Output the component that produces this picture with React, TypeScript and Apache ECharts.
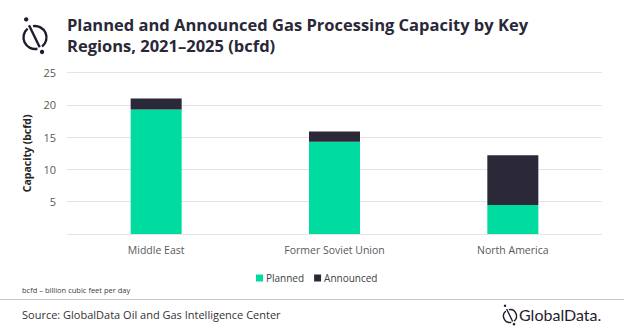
import React, { useEffect, useRef } from "react";
import * as echarts from "echarts";

const categories = ["Middle East", "Former Soviet Union", "North America"];
const planned = [19.3, 14.3, 4.5];
const announced = [1.7, 1.6, 7.7];
const yTicks = { min: 0, max: 25, interval: 5 };

const titleLines = ["Planned and Announced Gas Processing Capacity by Key", "Regions, 2021\u20132025 (bcfd)"];
const noteText = "bcfd \u2013 billion cubic feet per day";
const sourceText = "Source: GlobalData Oil and Gas Intelligence Center";

function logo(cx: number, cy: number, r: number, color: string, lw: number): any[] {
  const deg = Math.PI / 180;
  const ang = 64 * deg;
  const ext = r * 1.25;
  return [
    { type: "arc", shape: { cx, cy, r, startAngle: -100 * deg, endAngle: 52 * deg, clockwise: true }, style: { stroke: color, lineWidth: lw, fill: "none" } },
    { type: "arc", shape: { cx, cy, r, startAngle: 78 * deg, endAngle: 230 * deg, clockwise: true }, style: { stroke: color, lineWidth: lw, fill: "none" } },
    { type: "line", shape: { x1: cx - Math.cos(ang) * ext * 0.95, y1: cy - Math.sin(ang) * ext * 0.95, x2: cx + Math.cos(ang) * ext * 0.75, y2: cy + Math.sin(ang) * ext * 0.75 }, style: { stroke: color, lineWidth: lw } },
    { type: "circle", shape: { cx: cx - Math.cos(ang) * ext * 1.4, cy: cy - Math.sin(ang) * ext * 1.4, r: lw * 0.9 }, style: { fill: color } },
    { type: "circle", shape: { cx: cx + Math.cos(ang) * ext * 1.12, cy: cy + Math.sin(ang) * ext * 1.12, r: lw * 0.9 }, style: { fill: color } },
  ];
}

export default function App() {
  const ref = useRef<HTMLDivElement>(null);
  useEffect(() => {
    document.body.style.margin = "0";
    const chart = echarts.init(ref.current!, null, { renderer: "svg" });
    const titleStyle = { fontFamily: "Open Sans", fontWeight: "bold", fontSize: 16.5, fill: "#2a2837" };
    chart.setOption({
      animation: false,
      backgroundColor: "#ffffff",
      grid: { left: 67, right: 22, top: 72.7, bottom: 101, containLabel: false },
      legend: {
        data: ["Planned", "Announced"],
        left: 251,
        top: 268,
        itemWidth: 7,
        itemHeight: 7,
        itemGap: 10,
        icon: "rect",
        textStyle: { fontFamily: "Open Sans", fontSize: 10, color: "#404040", padding: [0, 0, 0, -2] },
      },
      xAxis: {
        type: "category",
        data: categories,
        axisLine: { show: false },
        axisTick: { show: false },
        axisLabel: { fontFamily: "Open Sans", fontSize: 10.5, color: "#595959", margin: 10 },
      },
      yAxis: {
        type: "value",
        min: yTicks.min,
        max: yTicks.max,
        interval: yTicks.interval,
        name: "Capacity (bcfd)",
        nameLocation: "middle",
        nameGap: 35,
        nameRotate: 90,
        nameTextStyle: { fontFamily: "Open Sans", fontSize: 10.5, fontWeight: "bold", color: "#262626" },
        axisLine: { show: false },
        axisTick: { show: false },
        splitLine: { lineStyle: { color: "#e4e4e4", width: 1 } },
        axisLabel: {
          fontFamily: "Open Sans",
          fontSize: 11,
          color: "#595959",
          margin: 11,
          formatter: (v: number) => (v === 0 ? "" : String(v)),
        },
      },
      series: [
        { name: "Planned", type: "bar", stack: "t", data: planned, barWidth: "28.6%", itemStyle: { color: "#00dba0" } },
        { name: "Announced", type: "bar", stack: "t", data: announced, barWidth: "28.6%", itemStyle: { color: "#2b2838" } },
      ],
      graphic: [
        ...logo(35, 37.5, 11.5, "#1f1d2b", 2.4),
        { type: "text", left: 67, top: 16, style: { text: titleLines[0], ...titleStyle } },
        { type: "text", left: 67, top: 37, style: { text: titleLines[1], ...titleStyle } },
        { type: "text", left: 22, top: 286, style: { text: noteText, fontFamily: "Open Sans", fontSize: 7.5, fill: "#404040" } },
        { type: "line", shape: { x1: 0, y1: 299.5, x2: 624, y2: 299.5 }, style: { stroke: "#c8c8c8", lineWidth: 1 } },
        { type: "text", left: 22, top: 309, style: { text: sourceText, fontFamily: "Open Sans", fontSize: 11, fill: "#333333" } },
        ...logo(510, 316, 6.5, "#1f1d2b", 1.4),
        { type: "text", left: 519, top: 306, style: { text: "GlobalData.", fontFamily: "Lato", fontSize: 16, fill: "#1f1d2b" } },
      ],
    });
    return () => chart.dispose();
  }, []);
  return <div ref={ref} style={{ width: 624, height: 335 }} />;
}
